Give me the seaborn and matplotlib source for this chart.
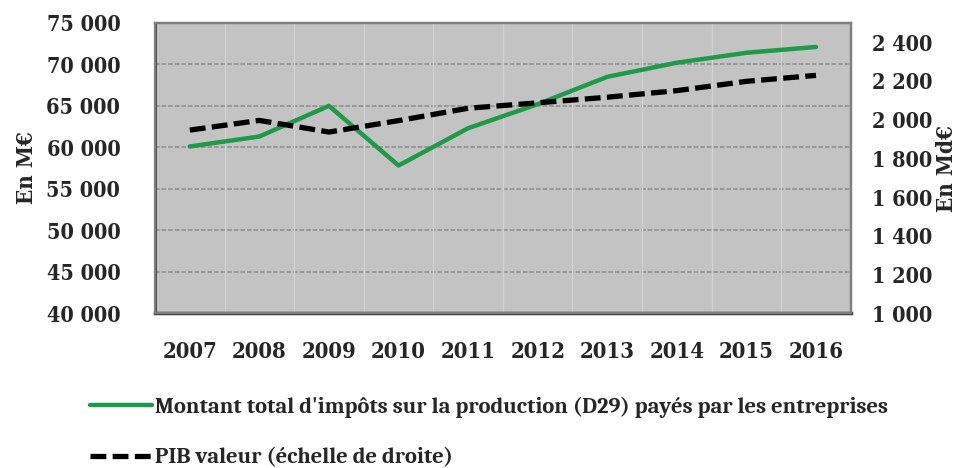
import matplotlib
matplotlib.use('Agg')
import matplotlib.pyplot as plt
from matplotlib.ticker import FuncFormatter
import seaborn as sns
import pandas as pd

# ── Données ───────────────────────────────────────────────
annees = [2007, 2008, 2009, 2010, 2011, 2012, 2013, 2014, 2015, 2016]
impots_d29 = [60100, 61300, 65000, 57800, 62300, 65200, 68500, 70200, 71400, 72100]   # M€
pib_valeur = [1946, 1996, 1936, 1995, 2059, 2087, 2116, 2150, 2198, 2229]             # Md€

label_d29 = "Montant total d'impôts sur la production (D29) payés par les entreprises"
label_pib = "PIB valeur (échelle de droite)"

df = pd.DataFrame({'annee': annees, 'd29': impots_d29, 'pib': pib_valeur})

# ── Style ─────────────────────────────────────────────────
sns.set_theme(style='white')
plt.rcParams['font.family'] = ['DejaVu Serif']
plt.rcParams['font.stretch'] = 'condensed'
plt.rcParams['font.weight'] = 'bold'

VERT = '#1f9a48'
FOND = '#c3c3c3'
SERIF = ['Caladea', 'DejaVu Serif']

fig = plt.figure(figsize=(9.57, 4.68), dpi=100)
ax = fig.add_axes([0.162, 0.331, 0.727, 0.620])
ax.set_facecolor(FOND)

sns.lineplot(data=df, x='annee', y='d29', ax=ax, color=VERT, linewidth=3.2,
             label=label_d29, legend=False)

ax2 = ax.twinx()
sns.lineplot(data=df, x='annee', y='pib', ax=ax2, color='black', linewidth=3.8,
             label=label_pib, legend=False)
ax2.lines[0].set_dashes((3, 1.2))

# ── Axes ──────────────────────────────────────────────────
ax.set_xlim(2006.5, 2016.5)
ax.set_ylim(40000, 75000)
ax.set_yticks(range(40000, 75001, 5000))
ax2.set_ylim(1000, 2500)
ax2.set_yticks(range(1000, 2401, 200))

esp = FuncFormatter(lambda v, p: f'{int(v):,}'.replace(',', ' '))
ax.yaxis.set_major_formatter(esp)
ax2.yaxis.set_major_formatter(esp)

ax.set_xticks(annees)
ax.set_xticklabels([str(a) for a in annees], fontweight='bold', fontsize=15.8)
for lab in ax.get_yticklabels() + ax2.get_yticklabels():
    lab.set_fontweight('bold')
    lab.set_fontsize(15.5)

ax.tick_params(axis='both', length=0)
ax2.tick_params(axis='both', length=0)
ax.tick_params(axis='y', pad=25)
ax.tick_params(axis='x', pad=20)
ax2.tick_params(axis='y', pad=15)

# grilles
for v in range(45000, 75000, 5000):
    ax.axhline(v, color='#8c8c8c', linestyle=(0, (3, 1.3)), linewidth=1.1, zorder=0)
for k in range(1, 10):
    ax.axvline(2006.5 + k, color='#d2d2d2', linewidth=1, zorder=0)

for a in (ax, ax2):
    for s in a.spines.values():
        s.set_color('#7f7f7f')
        s.set_linewidth(1.6)
ax.spines['left'].set_color('#3a3a3a')
ax.spines['bottom'].set_color('#3a3a3a')
ax.spines['left'].set_linewidth(2)
ax.spines['bottom'].set_linewidth(2.5)

ax.set_xlabel('')
ax.set_ylabel('En M€', fontweight='bold', fontsize=16, va='center')
ax.yaxis.set_label_coords(-0.184, 0.5)
ax2.set_ylabel('En Md€', fontweight='bold', fontsize=16, rotation=90, va='center')
ax2.yaxis.set_label_coords(1.139, 0.5)

# ── Légende ───────────────────────────────────────────────
h1 = ax.lines[0]
h2 = ax2.lines[0]
fig.legend([h1, h2], [label_d29, label_pib], loc='upper left',
           bbox_to_anchor=(0.094, 0.152), frameon=False, handlelength=2.75,
           handletextpad=0.15, labelspacing=1.32, borderaxespad=0, borderpad=0,
           prop={'family': SERIF, 'weight': 'bold', 'size': 16.2})

plt.savefig('out.png', dpi=100)
plt.close()
